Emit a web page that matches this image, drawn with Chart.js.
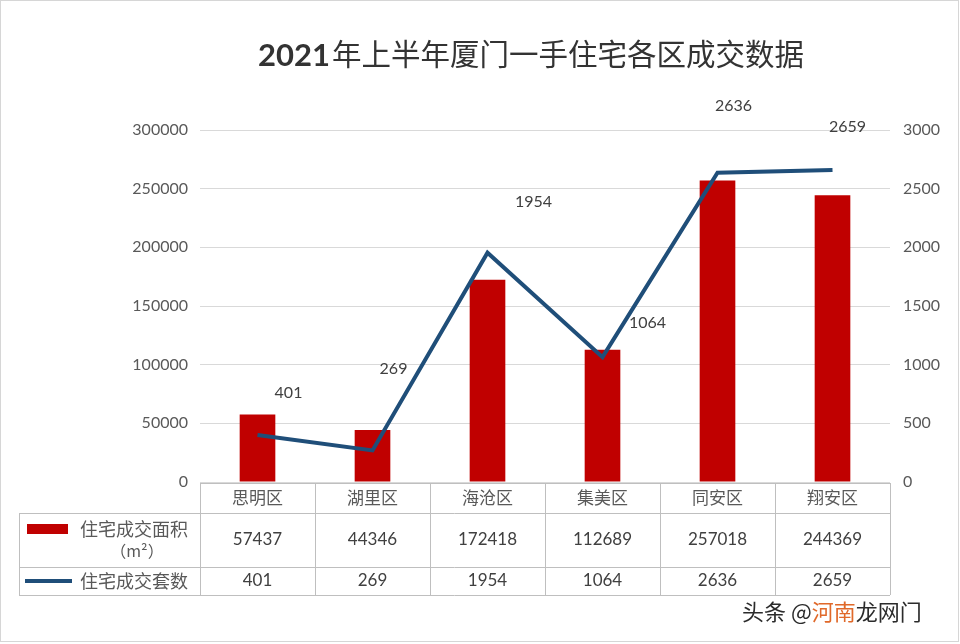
<!DOCTYPE html>
<html>
<head>
<meta charset="utf-8">
<script src="https://cdn.jsdelivr.net/npm/chart.js@4/dist/chart.umd.min.js"></script>
<style>
  body { margin: 0; background: #fff; }
  #wrap { width: 960px; height: 644px; }
</style>
</head>
<body>
<div id="wrap"><canvas id="chart" width="960" height="644"></canvas></div>
<script>
// data
const districts = ["思明区", "湖里区", "海沧区", "集美区", "同安区", "翔安区"]
const areaValues = [57437, 44346, 172418, 112689, 257018, 244369]   // 住宅成交面积 (m²)
const unitValues = [401, 269, 1954, 1064, 2636, 2659]               // 住宅成交套数
const areaLabel = "住宅成交面积"
const unitLabel = "住宅成交套数"
const titleText = "2021年上半年厦门一手住宅各区成交数据"

// label nudges (px) copied from the excel-ish placement in the picture
const labelOffsets = [[31, -42], [21, -82], [46, -51], [45, -34], [16, -67], [15, -43]]

const RED = "#C00000"
const BLUE = "#1F4E79"
const TXT = "#404040"
const GRID = "#D9D9D9"
const TABLE_LINE = "#BFBFBF"
const CJK = "'Noto Sans CJK SC', sans-serif"
const NUM = "Lato, 'Open Sans', sans-serif"

/*draws title, line value labels, the data table under the plot and the watermark*/
const extras = {
    id: "extras",
    afterDraw(chart) {
        const ctx = chart.ctx
        const xs = chart.scales.x
        const area = chart.chartArea
        ctx.save()

        // frame
        ctx.strokeStyle = "#D6D6D6"
        ctx.lineWidth = 1
        ctx.strokeRect(0.5, 0.5, 958, 641)

        // title, "2021" bold + rest
        const part1 = titleText.slice(0, 4), part2 = titleText.slice(4)
        const f1 = "bold 31px " + NUM, f2 = "29.5px " + CJK
        ctx.font = f1
        const w1 = ctx.measureText(part1).width
        ctx.font = f2
        const w2 = ctx.measureText(part2).width
        let tx = 530 - (w1 + w2) / 2
        ctx.fillStyle = "#333333"
        ctx.textBaseline = "middle"
        ctx.textAlign = "left"
        ctx.font = f1
        ctx.fillText(part1, tx, 56)
        ctx.font = f2
        ctx.fillText(part2, tx + w1 + 2, 54)

        // value labels for the line
        ctx.font = "16px " + NUM
        ctx.fillStyle = TXT
        ctx.textAlign = "center"
        const pts = chart.getDatasetMeta(1).data
        pts.forEach((p, i) => {
            const o = labelOffsets[i]
            ctx.fillText(String(unitValues[i]), p.x + o[0], p.y + o[1])
        })

        // data table
        const n = districts.length
        const colW = (area.right - area.left) / n
        const left = 19
        const rTop = area.bottom + 1, r1 = rTop + 30, r2 = r1 + 54, rBot = r2 + 28
        ctx.strokeStyle = TABLE_LINE
        ctx.lineWidth = 1
        const hl = (x0, x1, y) => { ctx.beginPath(); ctx.moveTo(x0, Math.round(y) + 0.5); ctx.lineTo(x1, Math.round(y) + 0.5); ctx.stroke() }
        const vl = (x, y0, y1_) => { ctx.beginPath(); ctx.moveTo(Math.round(x) + 0.5, y0); ctx.lineTo(Math.round(x) + 0.5, y1_); ctx.stroke() }
        hl(area.left, area.right, rTop)
        hl(left, area.right, r1)
        hl(left, area.right, r2)
        hl(left, area.right, rBot)
        vl(left, r1, rBot)
        for (let i = 0; i <= n; i++) vl(area.left + i * colW, rTop, rBot)

        districts.forEach((d, i) => {
            const cx = xs.getPixelForValue(i)
            ctx.font = "17px " + CJK
            ctx.fillStyle = "#595959"
            ctx.fillText(d, cx, (rTop + r1) / 2)
            ctx.font = "17px " + NUM
            ctx.fillStyle = TXT
            ctx.fillText(String(areaValues[i]), cx, (r1 + r2) / 2)
            ctx.fillText(String(unitValues[i]), cx, (r2 + rBot) / 2)
        })

        // legend cells
        ctx.fillStyle = RED
        ctx.fillRect(27, 524, 41, 10)
        ctx.strokeStyle = BLUE
        ctx.lineWidth = 4
        ctx.beginPath(); ctx.moveTo(25, 581); ctx.lineTo(72, 581); ctx.stroke()
        ctx.fillStyle = "#595959"
        ctx.font = "18px " + CJK
        ctx.textAlign = "left"
        ctx.fillText(areaLabel, 80, 529)
        ctx.fillText(unitLabel, 80, 581)
        ctx.textAlign = "center"
        ctx.font = "16px " + CJK
        ctx.fillText("（m²）", 137, 551)

        // watermark
        ctx.textAlign = "left"
        ctx.font = "22px " + CJK
        let wx = 742
        const parts = [["头条 @", "#2b2b2b"], ["河南", "#E0692A"], ["龙网门", "#2b2b2b"]]
        parts.forEach(([s, c]) => {
            ctx.fillStyle = c
            ctx.fillText(s, wx, 612)
            wx += ctx.measureText(s).width
        })
        ctx.restore()
    }
}

new Chart("chart", {
    type: "bar",
    data: {
        labels: districts,
        datasets: [{
            label: areaLabel,
            data: areaValues,
            backgroundColor: RED,
            yAxisID: "y",
            categoryPercentage: 1,
            barPercentage: 0.31,
            order: 2
        }, {
            type: "line",
            label: unitLabel,
            data: unitValues,
            borderColor: BLUE,
            borderWidth: 4,
            pointRadius: 0,
            tension: 0,
            yAxisID: "y1",
            order: 1
        }]
    },
    options: {
        responsive: false,
        animation: false,
        layout: { padding: { top: 130, bottom: 162, left: 0, right: 0 } },
        plugins: {
            legend: { display: false },
            title: { display: false },
            tooltip: { enabled: false }
        },
        scales: {
            x: { display: false, offset: true },
            y: {
                position: "left",
                min: 0, max: 300000,
                ticks: {
                    stepSize: 50000,
                    padding: 12,
                    color: "#595959",
                    font: { family: NUM, size: 16 },
                    callback: v => String(v)
                },
                grid: { color: GRID, drawTicks: false },
                border: { display: false },
                afterFit: s => { s.width = 200 }
            },
            y1: {
                position: "right",
                min: 0, max: 3000,
                ticks: {
                    stepSize: 500,
                    padding: 13,
                    color: "#595959",
                    font: { family: NUM, size: 16 },
                    callback: v => String(v)
                },
                grid: { display: false, drawTicks: false },
                border: { display: false },
                afterFit: s => { s.width = 70 }
            }
        }
    },
    plugins: [extras]
})
</script>
</body>
</html>
